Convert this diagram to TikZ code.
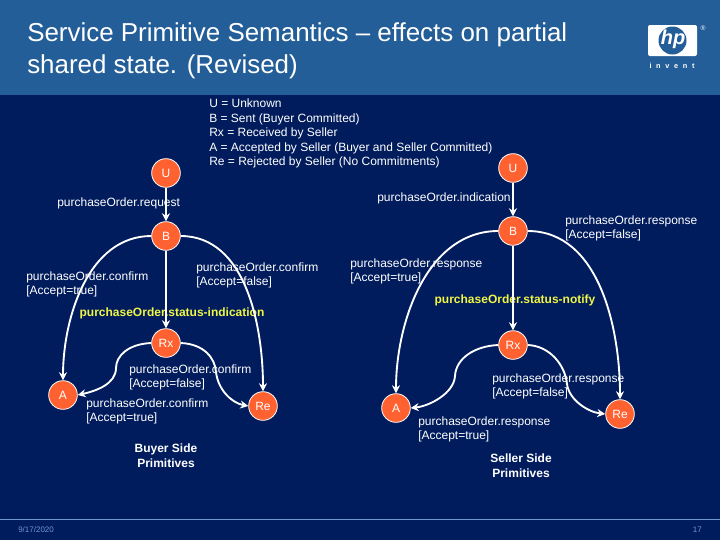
\documentclass[tikz,border=0pt]{standalone}
\usepackage{fontspec}
\setmainfont{Liberation Sans}
\usetikzlibrary{arrows.meta}
\definecolor{bodyblue}{RGB}{0,28,92}
\definecolor{barblue}{RGB}{36,94,152}
\definecolor{footblue}{RGB}{112,150,205}
\definecolor{stateorange}{RGB}{255,98,48}
\definecolor{notifyyellow}{RGB}{240,245,70}
\tikzset{
  state/.style={circle,draw=white,fill=stateorange,text=white,inner sep=0pt,minimum size=21.5pt,line width=0.6pt,font=\fontsize{9}{10.8}\selectfont},
  lbl/.style={anchor=west,align=left,text=white,inner sep=0pt,font=\fontsize{9}{10.8}\selectfont},
  status/.style={anchor=center,text=notifyyellow,inner sep=0pt,font=\fontsize{9}{10.8}\selectfont\bfseries},
  side/.style={anchor=center,align=center,text=white,inner sep=0pt,font=\fontsize{9}{10.8}\selectfont\bfseries},
  foot/.style={text=footblue,inner sep=0pt,font=\fontsize{6}{7}\selectfont},
  link/.style={-{Stealth[length=6pt,width=6pt]},white,line width=1.4pt},
}
\begin{document}
\begin{tikzpicture}[x=0.75pt,y=-0.75pt]
    \useasboundingbox (0,0) rectangle (720,540);
    % background
    \fill[bodyblue] (0,0) rectangle (720,540);
    \fill[barblue] (0,0) rectangle (720,95);
    \draw[footblue,line width=0.5pt] (0,519) -- (720,519);

    % title and logo
    \node[anchor=west,align=left,text=white,inner sep=0pt,font=\fontsize{19.45}{24}\selectfont] (title) at (27,50.5) {Service Primitive Semantics -- effects on partial\\shared state. (Revised)};
    \fill[white,rounded corners=1.5pt] (648,25) rectangle (697,56);
    \fill[barblue] (672.5,40.5) circle (14);
    \node[text=white,inner sep=0pt,font=\fontsize{15}{15}\selectfont\bfseries\itshape] (hp) at (673,39) {hp};
    \node[text=white,inner sep=0pt,font=\fontsize{5.5}{6}\selectfont\bfseries] (invent) at (672,66) {i\hspace{3.5pt}n\hspace{3.5pt}v\hspace{3.5pt}e\hspace{3.5pt}n\hspace{3.5pt}t};
    \node[text=white,inner sep=0pt,font=\fontsize{5}{5}\selectfont] (reg) at (703,28) {\textregistered};

    % legend
    \node[lbl] (legend) at (209,133.5) {U = Unknown\\B = Sent (Buyer Committed)\\Rx = Received by Seller\\A = Accepted by Seller (Buyer and Seller Committed)\\Re = Rejected by Seller (No Commitments)};

    % buyer side
    \node[state] (u1) at (166,173) {U};
    \node[state] (b1) at (166,236) {B};
    \node[state] (rx1) at (166,343) {Rx};
    \node[state] (a1) at (63,395) {A};
    \node[state] (re1) at (263,406) {Re};

    \node[lbl] (req) at (57,203.5) {purchaseOrder.request};
    \node[lbl] (conft) at (26,284.5) {purchaseOrder.confirm\\{[}Accept=true]};
    \node[lbl] (conff) at (196,275.5) {purchaseOrder.confirm\\{[}Accept=false]};
    \node[status] (stind) at (172,313) {purchaseOrder.status-indication};
    \node[lbl] (conff2) at (129,377.5) {purchaseOrder.confirm\\{[}Accept=false]};
    \node[lbl] (conft2) at (86,411.5) {purchaseOrder.confirm\\{[}Accept=true]};
    \node[side] (buyer) at (166,455.5) {Buyer Side\\Primitives};

    % seller side
    \node[state] (u2) at (513,168) {U};
    \node[state] (b2) at (513,231) {B};
    \node[state] (rx2) at (513,345) {Rx};
    \node[state] (a2) at (396,408) {A};
    \node[state] (re2) at (620,414) {Re};

    \node[lbl] (ind) at (377,198.5) {purchaseOrder.indication};
    \node[lbl] (respf) at (565,228.5) {purchaseOrder.response\\{[}Accept=false]};
    \node[lbl] (respt) at (350,271.5) {purchaseOrder.response\\{[}Accept=true]};
    \node[status] (stnot) at (515,300) {purchaseOrder.status-notify};
    \node[lbl] (respf2) at (492,386.5) {purchaseOrder.response\\{[}Accept=false]};
    \node[lbl] (respt2) at (418,429.5) {purchaseOrder.response\\{[}Accept=true]};
    \node[side] (seller) at (521,465.5) {Seller Side\\Primitives};

    % footer
    \node[foot,anchor=west] (date) at (18,530) {9/17/2020};
    \node[foot,anchor=east] (page) at (702,530) {17};

    \path[link]
    (u1) edge (b1)
    (b1) edge (rx1)
    (u2) edge (b2)
    (b2) edge (rx2)
    (b1.west) edge [out=180,in=90,looseness=0.95] (a1.north)
    (b1.east) edge [out=0,in=90,looseness=0.95] (re1.north)
    (b2.west) edge [out=180,in=90,looseness=0.95] (a2.north)
    (b2.east) edge [out=0,in=90,looseness=0.95] (re2.north)
    ;
    \draw[link] (rx1.west) .. controls (128,344) and (116,356) .. (116,368) .. controls (116,384) and (96,391) .. (a1.east);
    \draw[link] (rx1.east) .. controls (204,344) and (215,358) .. (216,372) .. controls (218,390) and (232,403) .. (re1.west);
    \draw[link] (rx2.west) .. controls (475,346) and (456,358) .. (455,376) .. controls (454,393) and (430,406) .. (a2.east);
    \draw[link] (rx2.east) .. controls (550,346) and (565,365) .. (567,384) .. controls (569,400) and (588,412) .. (re2.west);
  \end{tikzpicture}
\end{document}
